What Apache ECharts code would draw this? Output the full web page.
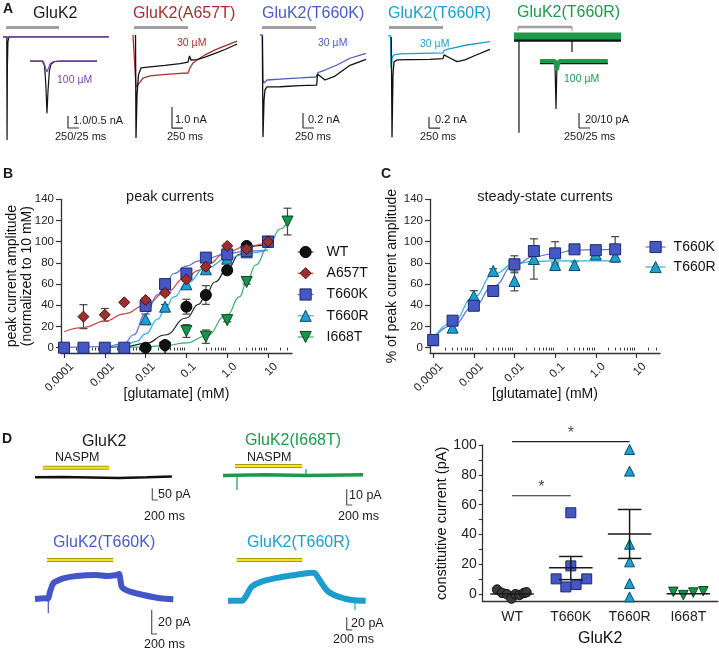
<!DOCTYPE html>
<html><head><meta charset="utf-8">
<script src="https://cdn.jsdelivr.net/npm/echarts@6/dist/echarts.min.js"></script>
<style>html,body{margin:0;padding:0;background:#fff}#c{width:719px;height:649px}</style>
</head><body><div id="c"></div>
<script>
const FONT = 'Arial, "Liberation Sans", Helvetica, sans-serif';

// ================= Panel A : current traces (ms, nA / pA) =================
const a1Black = [[0,0],[85,0],[92,-8.6],[100,-2.5],[112,-0.4],[135,0],[2400,0]];
const a1Purple = [[0,0],[88,0],[96,-0.2],[112,0],[2406,0]];
const a1InsetBlack = [[0,0],[28,0],[33,-0.2],[36,-1.0],[38.5,-2.17],[41,-1.2],[44,-0.4],[48,-0.12],[55,-0.03],[70,0],[152,0]];
const a1InsetPurple = [[0,0],[30,0],[34,-0.2],[38,-0.46],[42,-0.3],[46,-0.1],[52,-0.03],[60,0],[152,0]];
const a1Bar = [[70,0.78],[1270,0.78]];
const a1Scale = [[1475,-6.6],[1475,-7.6],[1725,-7.6]];

const a2Red = [[0,0],[45,0],[68,-2.48],[91,-2.48],[159,-2.24],[227,-2.05],[386,-1.95],[613,-1.90],[840,-1.86],[1067,-1.83],[1249,-1.81],[1294,-1.57],[1362,-1.33],[1453,-1.19],[1635,-0.95],[1862,-0.71],[2089,-0.52],[2361,-0.29]];
const a2Black = [[57,0],[68,-4.9],[91,-2.86],[125,-1.9],[182,-1.57],[386,-1.52],[726,-1.45],[1067,-1.36],[1249,-1.29],[1283,-1.0],[1317,-1.19],[1453,-1.17],[1635,-1.05],[1862,-0.88],[2089,-0.69],[2361,-0.43]];
const a2Bar = [[23,0.36],[1249,0.36]];
const a2Scale = [[885,-3.43],[885,-4.43],[1135,-4.43]];

const a3Blue = [[0,0],[57,0],[68,-0.6],[91,-0.64],[159,-0.6],[454,-0.587],[908,-0.573],[1271,-0.56],[1294,-0.547],[1317,-0.503],[1476,-0.467],[1748,-0.4],[2043,-0.31],[2406,-0.244]];
const a3Black = [[52,-0.013],[68,-1.36],[91,-0.87],[113,-0.73],[159,-0.693],[454,-0.69],[908,-0.676],[1287,-0.667],[1306,-0.52],[1362,-0.547],[1476,-0.6],[1703,-0.547],[2043,-0.404],[2406,-0.324]];
const a3Bar = [[45,0.1],[1271,0.1]];
const a3Scale = [[976,-1.04],[976,-1.24],[1226,-1.24]];

const a4Cyan = [[0,0],[57,0],[68,-0.58],[91,-0.4],[136,-0.345],[272,-0.327],[726,-0.318],[1249,-0.309],[1271,-0.264],[1340,-0.242],[1793,-0.164],[2315,-0.104]];
const a4Black = [[75,-0.018],[91,-1.84],[113,-0.71],[136,-0.47],[204,-0.436],[499,-0.431],[953,-0.424],[1249,-0.413],[1271,-0.345],[1407,-0.4],[1566,-0.467],[1748,-0.436],[1975,-0.355],[2315,-0.242]];
const a4Bar = [[23,0.155],[1249,0.155]];
const a4Scale = [[931,-1.473],[931,-1.673],[1181,-1.673]];

const a5Green = [[0,0],[2430,0]];
const a5BlackBand = [[0,-5],[2430,-5]];
const a5Spike1 = [[113,0],[113,-129]];
const a5Spike2 = [[1317,0],[1317,-21.3]];
const a5Bar = [[91,12],[1317,12]];
const a5BarEnds = [[91,6.7],[91,12],null,[1317,12],[1317,6.7]];
const a5Scale = [[1476,-102.7],[1476,-122.7],[1726,-122.7]];
const a5InsetGreen = [[0,0],[34,0],[37,-4],[38.6,-6],[41,-2],[44,0],[154,0]];
const a5InsetBlackBand = [[0,-1.5],[154,-1.5]];
const a5InsetSpike = [[34,-1],[36.3,-32],[38.5,-2]];

// ================= Panel B : peak currents =================
const bTickVals = [0.0001, 0.001, 0.01, 0.1, 1, 10];
const bTickLabels = ['0.0001', '0.001', '0.01', '0.1', '1.0', '10'];
const yTickVals = [0, 20, 40, 60, 80, 100, 120, 140];

const bWT_x = [0.01, 0.03, 0.1, 0.3, 1, 3, 10];
const bWT_y = [0, 2.5, 38.7, 49.7, 73, 96, 100];
const bWT_e = [0, 0, 7, 8.8, 3, 2, 0];
const bA657T_x = [0.0003, 0.001, 0.003, 0.01, 0.03, 0.1, 0.3, 1, 3, 10];
const bA657T_y = [29.3, 31, 42.8, 45, 51.6, 64.5, 76.4, 96, 93, 100];
const bA657T_e = [11.3, 6, 1.5, 2, 2, 2, 2, 2, 2, 0];
const bT660K_x = [0.0001, 0.0003, 0.001, 0.003, 0.01, 0.03, 0.1, 0.3, 1, 3, 10];
const bT660K_y = [0, 0, 0, 0, 39.4, 60, 70, 85, 88, 91, 100];
const bT660K_e = [0, 0, 0, 0, 4, 2, 3, 2, 2, 2, 0];
const bT660R_x = [0.01, 0.03, 0.1, 0.3, 1, 3, 10];
const bT660R_y = [26.8, 38.7, 59.8, 74, 84, 90, 100];
const bT660R_e = [5, 2, 3, 2, 2, 2, 0];
const bI668T_x = [0.03, 0.1, 0.3, 1, 3, 10, 30];
const bI668T_y = [0, 15.7, 10.4, 26, 62, 100, 119];
const bI668T_e = [0, 6, 6.3, 1.5, 2, 0, 12.6];

const bFitWT_x = [0.001, 0.003, 0.01, 0.03, 0.1, 0.2, 0.3, 0.5, 1, 2, 3, 5, 10];
const bFitWT_y = [0, 1, 4, 12, 28, 41, 50, 62, 74, 88, 93, 96, 98];
const bFitA657T_x = [0.0001, 0.0003, 0.001, 0.003, 0.01, 0.03, 0.1, 0.2, 0.3, 1, 3, 10];
const bFitA657T_y = [15, 19, 25, 32, 40, 52, 66, 73, 78, 90, 96, 100];
const bFitT660K_x = [0.0001, 0.001, 0.003, 0.005, 0.01, 0.02, 0.03, 0.05, 0.1, 0.2, 0.3, 1, 3, 10];
const bFitT660K_y = [0.3, 1, 4, 12, 32, 50, 60, 70, 77, 82, 84, 89, 91, 92];
const bFitT660R_x = [0.001, 0.003, 0.006, 0.01, 0.02, 0.03, 0.05, 0.1, 0.3, 1, 3, 10];
const bFitT660R_y = [0.5, 2, 6, 13, 27, 37, 48, 61, 75, 84, 89, 92];
const bFitI668T_x = [0.003, 0.01, 0.03, 0.1, 0.3, 1, 2, 3, 5, 10, 20, 30];
const bFitI668T_y = [0.2, 0.8, 2, 4.5, 11, 31, 48, 62, 78, 95, 112, 119];

// ================= Panel C : steady-state currents =================
const cT660K_x = [0.0001, 0.0003, 0.001, 0.003, 0.01, 0.03, 0.1, 0.3, 1, 3];
const cT660K_y = [7.3, 25.5, 39.6, 53.5, 78.7, 91.2, 89, 92.8, 92, 92.8];
const cT660K_e = [2, 3, 3.8, 2, 8, 3, 11, 3, 3, 12];
const cT660R_x = [0.0001, 0.0003, 0.001, 0.003, 0.01, 0.03, 0.1, 0.3, 1, 3];
const cT660R_y = [7, 18.9, 48.8, 72.4, 63, 83.7, 78, 78, 88, 86];
const cT660R_e = [2, 2, 5, 2, 9.4, 19, 2, 3, 2, 3];
const cFitT660K_x = [0.0001, 0.0003, 0.001, 0.003, 0.01, 0.03, 0.1, 0.3, 1, 3];
const cFitT660K_y = [8, 21, 39, 58, 78, 86, 89, 92, 92.5, 93];
const cFitT660R_x = [0.0001, 0.0003, 0.001, 0.003, 0.01, 0.03, 0.1, 0.3, 1, 3];
const cFitT660R_y = [8, 24, 48, 69, 79, 81.5, 82, 82, 82, 82];

// ================= Panel D : NASPM traces (ms, pA) =================
const d1Trace = [[0,0],[1000,1],[2000,-1],[3000,-3],[4000,0],[4890,3]];
const d1Bar = [[286,41.3],[2643,41.3]];
const d1Scale = [[4189,-47.3],[4189,-97.6],[4389,-97.6]];
const d2Trace = [[0,0],[1500,0.5],[3000,0],[5000,0.5]];
const d2Spike1 = [[500,0],[500,-9.2]];
const d2Spike2 = [[2964,0],[2964,4.1]];
const d2Bar = [[429,6.05],[2821,6.05]];
const d2Scale = [[4418,-8.8],[4418,-18.8],[4618,-18.8]];
const d3Trace = [[0,0],[357,0.6],[464,0.4],[536,6.1],[654,13.1],[821,15.4],[1011,17.25],[1489,19.2],[2203,20],[2560,19.2],[2918,20],[3000,20.8],[3096,10.25],[3214,7.9],[3393,6.1],[3868,3.3],[4464,0.6],[4939,-0.25]];
const d3Spike = [[475,0],[475,-11.9]];
const d3Bar = [[429,32.5],[2786,32.5]];
const d3Scale = [[4168,-9.2],[4168,-29.2],[4368,-29.2]];
const d4Trace = [[0,0],[489,0],[668,9],[846,22],[1203,30],[1678,35.3],[2153,38.9],[2632,42],[2989,44.1],[3107,43.1],[3346,27.4],[3582,14.2],[3939,6.3],[4418,1.1],[4918,0]];
const d4Spike = [[4535,0],[4535,-14.6]];
const d4Bar = [[311,64],[2653,64]];
const d4Scale = [[4239,-26.1],[4239,-46.1],[4439,-46.1]];

// ================= Panel D : constitutive current scatter =================
const dCats = ['WT', 'T660K', 'T660R', 'I668T'];
const dYTicks = [0, 20, 40, 60, 80, 100];
const dYMinor = [0, 10, 20, 30, 40, 50, 60, 70, 80, 90, 100];
const dWT_off = [-0.255, -0.17, -0.085, -0.01, 0.057, 0.125, 0.2, 0.245];
const dWT_val = [3.1, 0.9, 0, -2.9, 0, -0.5, 0.8, 1.3];
const dK_off = [0, 0, -0.25, 0.27, -0.085, 0.09];
const dK_val = [54.6, 19, 10.3, 10.3, 4.9, 6.5];
const dR_off = [0, 0, 0, 0, 0, 0];
const dR_val = [97, 82.5, 33.5, 21.7, 7.2, -1.8];
const dI_off = [-0.255, -0.085, 0.085, 0.255];
const dI_val = [1.6, -0.6, 1.1, 2];
const dMean = [0.2, 17.7, 40.3, 0.4];
const dSemLo = [0.2, 9.8, 24, 0.4];
const dSemHi = [0.2, 25.3, 56.8, 0.4];
const dSig = [[0, 2, 102.2], [0, 1, 66]];

// ================= colours =================
const C = {
  red: '#a3302f', redFill: '#9c2f2f', redEdge: '#4d1010', redFit: '#c0504d',
  blue: '#4a5bc4', blueFill: '#4557c2', blueEdge: '#1d2870', blueFit: '#6272d4',
  cyan: '#1a9fd0', cyanFill: '#1aa0d2', cyanEdge: '#0c4a66', cyanFit: '#30b0e0',
  green: '#1c9a4a', greenFill: '#17934a', greenEdge: '#0a4520', greenFit: '#3aaa66',
  purple: '#7d45b8', gray: '#a0a0a0', ink: '#1a1a1a', axis: '#333'
};

// ================= layout =================
const grids = [
  {left:3, top:20, width:110, height:126},
  {left:30, top:50, width:67, height:66},
  {left:133, top:20, width:106, height:120},
  {left:260, top:20, width:106, height:120},
  {left:388, top:20, width:106, height:120},
  {left:514, top:20, width:108, height:120},
  {left:540, top:50, width:68, height:62},
  {left:35, top:462, width:140, height:40},
  {left:223, top:462, width:140, height:48},
  {left:35, top:555, width:140, height:82},
  {left:228, top:555, width:140, height:82},
  {left:61, top:199.3, width:231, height:153.7},
  {left:430, top:199.3, width:230, height:153.7},
  {left:482.7, top:445, width:235, height:156.7}
].map(g => Object.assign({containLabel:false, outerBoundsMode:'none'}, g));
const TR = [
  [2497, -9.1, 1.4], [152, -2.29, 0.46], [2406, -5, 0.714], [2406, -1.4, 0.2], [2406, -1.89, 0.29],
  [2452, -138.7, 21.3], [154.4, -34, 7.33], [5000, -106.2, 65.8], [5000, -22, 8.6], [5000, -31.7, 36.7], [5000, -57.2, 72]
];

const xAxes = [], yAxes = [];
TR.forEach((r, i) => {
  xAxes.push({type:'value', gridIndex:i, min:0, max:r[0], show:false});
  yAxes.push({type:'value', gridIndex:i, min:r[1], max:r[2], show:false});
});

const minorTicks = [];
[0.0001, 0.001, 0.01, 0.1, 1, 10].forEach(d => { for (let m = 2; m <= 9; m++) { const v = +(d*m).toPrecision(3); if (v <= 38) minorTicks.push(v); } });
function logLabel(v) { for (let i = 0; i < bTickVals.length; i++) if (Math.abs(v/bTickVals[i]-1) < 1e-6) return bTickLabels[i]; return ''; }
const axLine = {show:true, onZero:false, lineStyle:{color:C.axis, width:1.3}};
const axFont = {fontFamily:FONT, color:'#222'};

function logAxes(grid, min, max, name) {
  return [
    {type:'log', gridIndex:grid, min, max, logBase:10, position:'bottom', name, nameLocation:'middle', nameGap:34, nameMoveOverlap:false,
     nameTextStyle:{fontFamily:FONT, fontSize:14, color:'#111'},
     axisLine:axLine, splitLine:{show:false},
     axisTick:{show:true, length:5, customValues:bTickVals, lineStyle:{color:C.axis, width:1.2}},
     axisLabel:{show:true, customValues:bTickVals, rotate:45, margin:4, fontSize:11.5, verticalAlign:'top', padding:[5,0,0,0], ...axFont, formatter:v => logLabel(v)}},
    {type:'log', gridIndex:grid, min, max, logBase:10, position:'bottom',
     axisLine:{show:false}, splitLine:{show:false}, axisLabel:{show:false},
     axisTick:{show:true, length:2.8, customValues:minorTicks, lineStyle:{color:C.axis, width:1}}}
  ];
}
function pctAxis(grid, name, gap, nameLH) {
  return {type:'value', gridIndex:grid, min:-5, max:140, name, nameLocation:'middle', nameGap:gap, nameMoveOverlap:false,
    nameTextStyle:{fontFamily:FONT, fontSize:14, color:'#111', lineHeight:nameLH},
    axisLine:axLine, splitLine:{show:false},
    axisTick:{show:true, length:5, customValues:yTickVals, lineStyle:{color:C.axis, width:1.2}},
    axisLabel:{show:true, customValues:yTickVals, margin:7, fontSize:11.5, ...axFont}};
}
xAxes.push(...logAxes(11, 0.0000845, 38.7, '[glutamate] (mM)'));   // 11, 12
xAxes.push(...logAxes(12, 0.0000835, 38, '[glutamate] (mM)'));     // 13, 14
yAxes.push(pctAxis(11, 'peak current amplitude\n(normalized to 10 mM)', 27, 14.5)); // 11
yAxes.push(pctAxis(12, '% of peak current amplitude', 30, 16)); // 12
xAxes.push({type:'category', gridIndex:13, data:dCats, position:'bottom', name:'GluK2', nameLocation:'middle', nameGap:29, nameMoveOverlap:false,
  nameTextStyle:{fontFamily:FONT, fontSize:16, color:'#111'},
  axisLine:axLine, axisTick:{show:false}, axisLabel:{fontSize:14, margin:8, ...axFont}}); // 15
xAxes.push({type:'value', gridIndex:13, min:-0.5, max:3.5, show:false}); // 16
yAxes.push({type:'value', gridIndex:13, min:-5, max:100, name:'constitutive current (pA)', nameLocation:'middle', nameGap:33, nameMoveOverlap:false,
  nameTextStyle:{fontFamily:FONT, fontSize:14.5, color:'#111'},
  axisLine:axLine, splitLine:{show:false},
  axisTick:{show:true, length:4, customValues:dYMinor, lineStyle:{color:C.axis, width:1.1}},
  axisLabel:{show:true, customValues:dYTicks, margin:6, fontSize:14, ...axFont}}); // 13

// ================= series helpers =================
const series = [];
function tr(gi, data, color, width, z, extra) {
  series.push(Object.assign({type:'line', xAxisIndex:gi, yAxisIndex:gi, data, symbol:'none', silent:true,
    connectNulls:false, clip:false, lineStyle:{color, width, cap:'butt'}, z:z||2}, extra||{}));
}
const SC = '#333';
// A1
tr(0, a1Black, '#111', 1.2, 2); tr(0, a1Purple, C.purple, 1.2, 3); tr(0, a1Bar, C.gray, 3, 2); tr(0, a1Scale, SC, 1.2, 2);
tr(1, a1InsetBlack, '#111', 1.2, 2); tr(1, a1InsetPurple, C.purple, 1.2, 3);
// A2
tr(2, a2Red, C.red, 1.3, 2); tr(2, a2Black, '#111', 1.3, 3); tr(2, a2Bar, C.gray, 3, 2); tr(2, a2Scale, SC, 1.2, 2);
// A3
tr(3, a3Blue, C.blue, 1.3, 2); tr(3, a3Black, '#111', 1.3, 3); tr(3, a3Bar, C.gray, 3, 2); tr(3, a3Scale, SC, 1.2, 2);
// A4
tr(4, a4Cyan, C.cyan, 1.3, 2); tr(4, a4Black, '#111', 1.3, 3); tr(4, a4Bar, C.gray, 3, 2); tr(4, a4Scale, SC, 1.2, 2);
// A5
tr(5, a5BlackBand, '#111', 4, 2); tr(5, a5Spike1, '#111', 1.2, 2); tr(5, a5Spike2, '#111', 1.2, 2);
tr(5, a5Green, C.green, 7, 3); tr(5, a5Bar, C.gray, 2.5, 2); tr(5, a5BarEnds, C.gray, 1.2, 2); tr(5, a5Scale, SC, 1.2, 2);
tr(6, a5InsetBlackBand, '#111', 2, 2); tr(6, a5InsetSpike, '#111', 1.2, 2); tr(6, a5InsetGreen, C.green, 4, 3);
// D traces
function naspm(gi, data) { tr(gi, data, '#a89a00', 4, 2); tr(gi, data, '#f5e32a', 2, 3); }
tr(7, d1Trace, '#111', 2.5, 2); naspm(7, d1Bar); tr(7, d1Scale, '#555', 1.2, 2);
tr(8, d2Trace, C.green, 3.5, 2); tr(8, d2Spike1, C.green, 1.2, 2); tr(8, d2Spike2, C.green, 1.2, 2); naspm(8, d2Bar); tr(8, d2Scale, '#555', 1.2, 2);
tr(9, d3Trace, '#4455c8', 6, 2, {smooth:0.3}); tr(9, d3Spike, '#4455c8', 1.2, 2); naspm(9, d3Bar); tr(9, d3Scale, '#555', 1.2, 2);
tr(10, d4Trace, '#1c9dcc', 6, 2, {smooth:0.3}); tr(10, d4Spike, '#1c9dcc', 1.2, 2); naspm(10, d4Bar); tr(10, d4Scale, '#555', 1.2, 2);

// error bars
function errBars(xi, yi, xs, ys, es, color, capPx) {
  const data = [];
  xs.forEach((x, i) => { if (es[i] > 0) data.push([x, ys[i]-es[i], ys[i]+es[i]]); });
  series.push({type:'custom', xAxisIndex:xi, yAxisIndex:yi, data, encode:{x:0, y:[1,2]}, silent:true, z:3, clip:false,
    renderItem(params, api) {
      const x = api.value(0), lo = api.coord([x, api.value(1)]), hi = api.coord([x, api.value(2)]);
      const st = {stroke:color, lineWidth:1.2};
      return {type:'group', children:[
        {type:'line', shape:{x1:lo[0], y1:lo[1], x2:hi[0], y2:hi[1]}, style:st},
        {type:'line', shape:{x1:lo[0]-capPx, y1:lo[1], x2:lo[0]+capPx, y2:lo[1]}, style:st},
        {type:'line', shape:{x1:hi[0]-capPx, y1:hi[1], x2:hi[0]+capPx, y2:hi[1]}, style:st}]};
    }});
}
function zip(xs, ys) { return xs.map((x, i) => [x, ys[i]]); }
function fit(xi, yi, name, xs, ys, sym, rot, fill, edge, lineCol) {
  series.push({type:'line', name, xAxisIndex:xi, yAxisIndex:yi, data:zip(xs, ys), smooth:0.5, smoothMonotone:'x',
    symbol:sym, symbolRotate:rot, showSymbol:false, silent:true, z:4,
    itemStyle:{color:fill, borderColor:edge, borderWidth:1}, lineStyle:{color:lineCol, width:1.2}});
}
function pts(xi, yi, name, xs, ys, sym, rot, size, fill, edge, z) {
  series.push({type:'scatter', name, xAxisIndex:xi, yAxisIndex:yi, data:zip(xs, ys), symbol:sym, symbolRotate:rot,
    symbolSize:size, silent:true, z:z||5, clip:false, itemStyle:{color:fill, borderColor:edge, borderWidth:1, opacity:1}});
}
// B
errBars(11, 11, bWT_x, bWT_y, bWT_e, '#444', 4);
errBars(11, 11, bA657T_x, bA657T_y, bA657T_e, '#444', 4);
errBars(11, 11, bT660K_x, bT660K_y, bT660K_e, '#444', 4);
errBars(11, 11, bT660R_x, bT660R_y, bT660R_e, '#444', 4);
errBars(11, 11, bI668T_x, bI668T_y, bI668T_e, '#444', 4);
fit(11, 11, 'WT', bFitWT_x, bFitWT_y, 'circle', 0, '#111', '#000', '#222');
fit(11, 11, 'A657T', bFitA657T_x, bFitA657T_y, 'diamond', 0, C.redFill, C.redEdge, C.redFit);
fit(11, 11, 'T660K', bFitT660K_x, bFitT660K_y, 'rect', 0, C.blueFill, C.blueEdge, C.blueFit);
fit(11, 11, 'T660R', bFitT660R_x, bFitT660R_y, 'triangle', 0, C.cyanFill, C.cyanEdge, C.cyanFit);
fit(11, 11, 'I668T', bFitI668T_x, bFitI668T_y, 'triangle', 180, C.greenFill, C.greenEdge, C.greenFit);
pts(11, 11, 'I668T pts', bI668T_x, bI668T_y, 'triangle', 180, 11, C.greenFill, C.greenEdge, 5);
pts(11, 11, 'T660R pts', bT660R_x, bT660R_y, 'triangle', 0, 11, C.cyanFill, C.cyanEdge, 5);
pts(11, 11, 'WT pts', bWT_x, bWT_y, 'circle', 0, 11, '#111', '#000', 6);
pts(11, 11, 'T660K pts', bT660K_x, bT660K_y, 'rect', 0, 11, C.blueFill, C.blueEdge, 6);
pts(11, 11, 'A657T pts', bA657T_x, bA657T_y, 'diamond', 0, 11, C.redFill, C.redEdge, 7);
// C
errBars(13, 12, cT660K_x, cT660K_y, cT660K_e, '#444', 4);
errBars(13, 12, cT660R_x, cT660R_y, cT660R_e, '#444', 4);
fit(13, 12, 'T660K', cFitT660K_x, cFitT660K_y, 'rect', 0, C.blueFill, C.blueEdge, C.blueFit);
fit(13, 12, 'T660R', cFitT660R_x, cFitT660R_y, 'triangle', 0, C.cyanFill, C.cyanEdge, C.cyanFit);
pts(13, 12, 'cT660R pts', cT660R_x, cT660R_y, 'triangle', 0, 11, C.cyanFill, C.cyanEdge, 5);
pts(13, 12, 'cT660K pts', cT660K_x, cT660K_y, 'rect', 0, 11, C.blueFill, C.blueEdge, 6);
// D scatter
function grp(idx, offs) { return offs.map(o => idx + o); }
pts(16, 13, 'dWT', grp(0, dWT_off), dWT_val, 'circle', 0, 9.5, '#3a3a3a', '#111', 5);
pts(16, 13, 'dK', grp(1, dK_off), dK_val, 'rect', 0, 10, C.blueFill, C.blueEdge, 5);
pts(16, 13, 'dR', grp(2, dR_off), dR_val, 'triangle', 0, 10, C.cyanFill, C.cyanEdge, 5);
pts(16, 13, 'dI', grp(3, dI_off), dI_val, 'triangle', 180, 9.5, C.greenFill, C.greenEdge, 5);
series.push({type:'custom', xAxisIndex:16, yAxisIndex:13, silent:true, z:6, clip:false,
  data:dMean.map((m, i) => [i, m, dSemLo[i], dSemHi[i]]), encode:{x:0, y:[1,2,3]},
  renderItem(params, api) {
    const i = api.value(0), st = {stroke:'#1a1a1a', lineWidth:1.5};
    const a = api.coord([i-0.37, api.value(1)]), b = api.coord([i+0.37, api.value(1)]);
    const lo = api.coord([i, api.value(2)]), hi = api.coord([i, api.value(3)]);
    const c1 = api.coord([i-0.2, 0]), c2 = api.coord([i+0.2, 0]);
    const kids = [{type:'line', shape:{x1:a[0], y1:a[1], x2:b[0], y2:b[1]}, style:st}];
    if (hi[1] < lo[1] - 2) {
      kids.push({type:'line', shape:{x1:lo[0], y1:lo[1], x2:hi[0], y2:hi[1]}, style:st});
      kids.push({type:'line', shape:{x1:c1[0], y1:lo[1], x2:c2[0], y2:lo[1]}, style:st});
      kids.push({type:'line', shape:{x1:c1[0], y1:hi[1], x2:c2[0], y2:hi[1]}, style:st});
    }
    return {type:'group', children:kids};
  }});
dSig.forEach(s => {
  series.push({type:'line', xAxisIndex:16, yAxisIndex:13, data:[[s[0], s[2]], [s[1], s[2]]], symbol:'none', silent:true,
    clip:false, lineStyle:{color:'#222', width:1.2}, z:4});
  series.push({type:'scatter', xAxisIndex:16, yAxisIndex:13, data:[[(s[0]+s[1])/2, s[2]]], symbolSize:0, silent:true, clip:false,
    label:{show:true, formatter:'*', position:'top', distance:0, fontSize:16, color:'#222', fontFamily:FONT}, z:4});
});

// ================= texts =================
function T(x, y, text, o) {
  o = o || {};
  return {type:'text', x, y, silent:true, z:10,
    style:{text, fill:o.c || C.ink, font:(o.b ? 'bold ' : '') + (o.s || 11) + 'px ' + FONT, align:o.a || 'left', verticalAlign:'middle'}};
}
const texts = [
  T(3, 9, 'A', {b:1, s:14}), T(3, 174, 'B', {b:1, s:14}), T(381, 174, 'C', {b:1, s:14}), T(2, 439, 'D', {b:1, s:14}),
  T(33, 14, 'GluK2', {s:16}), T(133, 14, 'GluK2(A657T)', {s:16, c:C.red}), T(262, 14, 'GluK2(T660K)', {s:16, c:C.blue}),
  T(388, 14, 'GluK2(T660R)', {s:16, c:C.cyan}), T(517, 13, 'GluK2(T660R)', {s:16, c:C.green}),
  T(57, 80, '100 µM', {s:10.5, c:C.purple}), T(73, 121, '1.0/0.5 nA'), T(55, 137, '250/25 ms'),
  T(177, 43, '30 µM', {s:10.5, c:C.red}), T(175, 120, '1.0 nA'), T(167, 137, '250 ms'),
  T(318, 43, '30 µM', {s:10.5, c:C.blue}), T(308, 120, '0.2 nA'), T(295, 137, '250 ms'),
  T(420, 44, '30 µM', {s:10.5, c:C.cyan}), T(435, 120, '0.2 nA'), T(420, 137, '250 ms'),
  T(564, 79, '100 µM', {s:10.5, c:C.green}), T(585, 120, '20/10 pA'), T(564, 137, '250/25 ms'),
  T(170, 197, 'peak currents', {s:14.5, a:'center'}), T(545, 197, 'steady-state currents', {s:14.5, a:'center'}),
  T(82, 442, 'GluK2', {s:16}), T(55, 458, 'NASPM', {s:12.5}), T(245, 441, 'GluK2(I668T)', {s:16, c:C.green}), T(247, 458, 'NASPM', {s:12.5}),
  T(158, 495, '50 pA', {s:12.5}), T(144, 517, '200 ms', {s:12.5}), T(349, 496, '10 pA', {s:12.5}), T(338, 517, '200 ms', {s:12.5}),
  T(53, 543, 'GluK2(T660K)', {s:16, c:C.blue}), T(247, 543, 'GluK2(T660R)', {s:16, c:C.cyan}),
  T(158, 623, '20 pA', {s:12.5}), T(144, 645, '200 ms', {s:12.5}), T(351, 624, '20 pA', {s:12.5}), T(333, 640, '200 ms', {s:12.5})
];

function legItem(name, fill, edge, line) { return {name, itemStyle:{color:fill, borderColor:edge, borderWidth:1}, lineStyle:{color:line, width:1.2}}; }
const legends = [
  {orient:'vertical', left:297, top:245, padding:0, itemWidth:16, itemHeight:14, itemGap:7.25, selectedMode:false,
   textStyle:{fontFamily:FONT, fontSize:14, color:'#111', padding:[0,0,0,8]},
   data:[legItem('WT', '#111', '#000', '#555'), legItem('A657T', C.redFill, C.redEdge, C.redFit), legItem('T660K', C.blueFill, C.blueEdge, C.blueFit),
         legItem('T660R', C.cyanFill, C.cyanEdge, C.cyanFit), legItem('I668T', C.greenFill, C.greenEdge, C.greenFit)]},
  {orient:'vertical', left:645, top:240, padding:0, itemWidth:20, itemHeight:14, itemGap:6, selectedMode:false,
   textStyle:{fontFamily:FONT, fontSize:14, color:'#111', padding:[0,0,0,3]},
   data:[legItem('T660K', C.blueFill, C.blueEdge, C.blueFit), legItem('T660R', C.cyanFill, C.cyanEdge, C.cyanFit)]}
];

const chart = echarts.init(document.getElementById('c'), null, {renderer:'canvas'});
chart.setOption({
  animation:false, backgroundColor:'#fff', textStyle:{fontFamily:FONT},
  grid:grids, xAxis:xAxes, yAxis:yAxes, series, legend:legends, graphic:texts
});
</script></body></html>
